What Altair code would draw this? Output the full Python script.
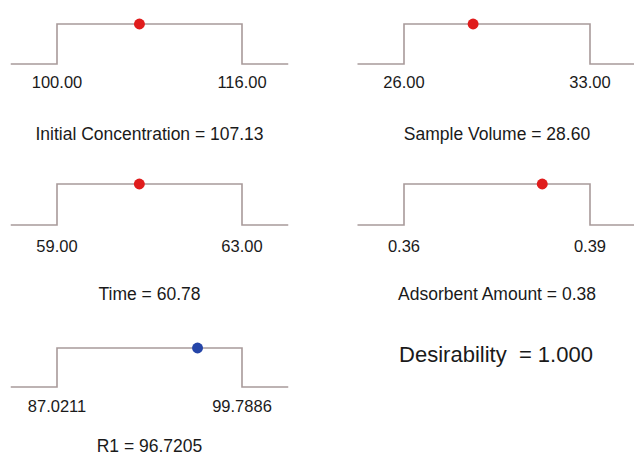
import altair as alt
import pandas as pd

# ---- data ----
factors = ["Initial Concentration", "Sample Volume", "Time", "Adsorbent Amount", "R1"]
lows = [100.00, 26.00, 59.00, 0.36, 87.0211]
highs = [116.00, 33.00, 63.00, 0.39, 99.7886]
values = [107.13, 28.60, 60.78, 0.3823, 96.7205]
decimals = [2, 2, 2, 2, 4]
is_response = [False, False, False, False, True]
desirability = 1.000

# ---- layout (pixels) ----
col_ranges = [[57, 242], [404, 590], [57, 242], [404, 590], [57, 242]]
row_ranges = [[64, 24], [64, 24], [225, 184], [225, 184], [387, 348]]
label_dy = [19, 19, 22, 22, 20]
title_dy = [71, 71, 70, 70, 60]

FONT = "Liberation Sans"
LINE_COLOR = "#a89a9a"
TEXT_COLOR = "#1a1a1a"
RED = "#e01c1c"
BLUE = "#2545a8"

panels = []
for i in range(5):
    lo, hi = lows[i], highs[i]
    ext = 0.25 * (hi - lo)
    step = pd.DataFrame({
        "x": [lo - ext, lo, lo, hi, hi, hi + ext],
        "y": [0, 0, 1, 1, 0, 0],
        "o": list(range(6)),
    })
    xs = alt.Scale(domain=[lo, hi], range=col_ranges[i], zero=False, nice=False)
    ys = alt.Scale(domain=[0, 1], range=row_ranges[i], zero=False, nice=False)
    X = lambda f: alt.X(f, scale=xs, axis=None)
    Y = lambda f: alt.Y(f, scale=ys, axis=None)

    line = alt.Chart(step).mark_line(color=LINE_COLOR, strokeWidth=1.6).encode(
        x=X("x:Q"), y=Y("y:Q"), order="o:Q")

    lab_df = pd.DataFrame({
        "x": [lo, hi], "y": [0, 0],
        "t": [f"{lo:.{decimals[i]}f}", f"{hi:.{decimals[i]}f}"],
    })
    labels = alt.Chart(lab_df).mark_text(
        font=FONT, fontSize=16.5, color=TEXT_COLOR, dy=label_dy[i], baseline="middle"
    ).encode(x=X("x:Q"), y=Y("y:Q"), text="t:N")

    tit_df = pd.DataFrame({
        "x": [(lo + hi) / 2], "y": [0],
        "t": [f"{factors[i]} = {values[i]:.{decimals[i]}f}"],
    })
    title = alt.Chart(tit_df).mark_text(
        font=FONT, fontSize=17.5, color=TEXT_COLOR, dy=title_dy[i], baseline="middle"
    ).encode(x=X("x:Q"), y=Y("y:Q"), text="t:N")

    dot_df = pd.DataFrame({"x": [values[i]], "y": [1]})
    dot = alt.Chart(dot_df).mark_point(
        filled=True, opacity=1, size=120, color=BLUE if is_response[i] else RED
    ).encode(x=X("x:Q"), y=Y("y:Q"))

    panels.append(alt.layer(line, labels, title, dot))

des_df = pd.DataFrame({"t": [f"Desirability\u00a0 = {desirability:.3f}"]})
des = alt.Chart(des_df).mark_text(
    font=FONT, fontSize=22, color=TEXT_COLOR, baseline="middle"
).encode(x=alt.value(496), y=alt.value(355), text="t:N")

chart = alt.layer(*panels, des).resolve_scale(
    x="independent", y="independent"
).properties(
    width=634, height=464, padding=0,
    autosize=alt.AutoSizeParams(type="none"),
).configure_view(stroke=None)

chart.save("out.html", embed_options={"renderer": "svg", "actions": False})
